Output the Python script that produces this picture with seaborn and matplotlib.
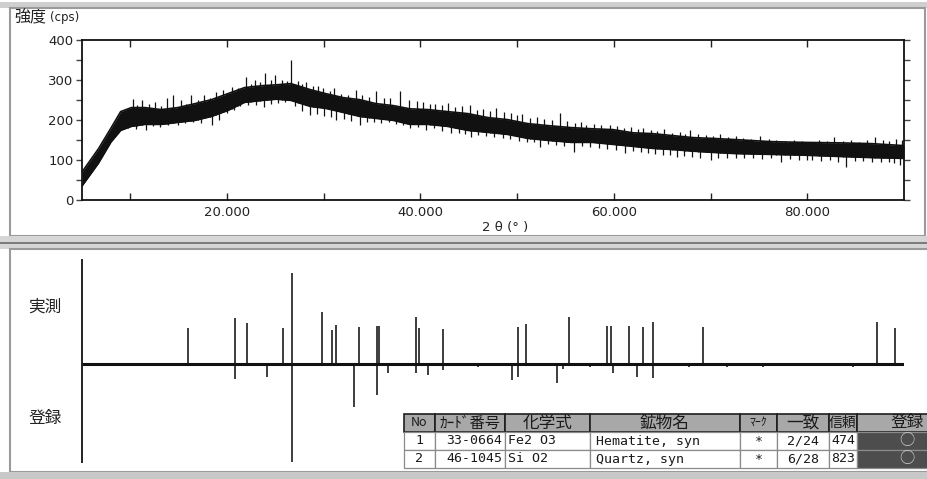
import numpy as np
import pandas as pd
import matplotlib
matplotlib.use("Agg")
import matplotlib.pyplot as plt
from matplotlib.patches import Rectangle
from matplotlib.lines import Line2D
import seaborn as sns

# ---- measured scan: dense noise band (lower / upper edge) ----
two_theta_band = [5.0, 6.7, 8.0, 9.0, 10.1, 11.5, 13.2, 14.9, 16.7, 18.4, 20.1, 21.8,
                  23.7, 25.1, 26.6, 28.6, 30.2, 32.0, 33.7, 35.4, 37.2, 38.9, 40.8,
                  42.8, 44.9, 47.0, 49.0, 51.1, 53.2, 55.6, 57.8, 59.9, 62.0, 64.0,
                  66.1, 68.2, 70.2, 72.6, 76.2, 79.7, 83.1, 86.6, 90.0]
band_low = [35, 92, 145, 174, 184, 189, 189, 194, 199, 209, 224, 244,
            249, 252, 249, 234, 229, 219, 209, 204, 199, 189, 189,
            184, 174, 169, 164, 154, 149, 144, 144, 139, 134, 129,
            126, 122, 119, 116, 114, 112, 109, 106, 104]
band_high = [70, 128, 180, 221, 231, 231, 226, 231, 241, 251, 266, 281,
             286, 288, 291, 276, 266, 256, 251, 241, 236, 228, 226,
             221, 216, 206, 201, 191, 186, 181, 178, 176, 168, 166,
             161, 156, 154, 151, 146, 144, 143, 141, 136]

# single counts sticking out of the band
spike_up_theta = [9.6, 10.3, 10.7, 11.2, 11.9, 12.6, 13.2, 13.8, 14.4, 15.2, 15.8, 16.3,
                  17.0, 17.6, 18.2, 18.9, 19.6, 20.0, 20.5, 21.1, 22.0, 22.5, 22.9, 23.4,
                  23.9, 24.5, 25.0, 25.7, 26.2, 26.6, 27.3, 27.8, 28.2, 28.9, 29.4, 29.9,
                  30.6, 31.1, 31.8, 32.5, 33.3, 34.0, 34.7, 35.4, 36.2, 36.9, 37.9, 38.8,
                  39.6, 40.3, 41.0, 41.5, 42.2, 42.8, 43.6, 44.3, 45.1, 45.8, 46.5, 47.2,
                  47.8, 48.6, 49.4, 50.0, 50.5, 51.3, 52.0, 52.8, 53.6, 54.4, 55.2, 56.0,
                  56.6, 57.1, 57.9, 58.7, 59.6, 60.3, 61.0, 61.8, 62.5, 63.0, 63.8, 64.5,
                  65.2, 66.0, 66.8, 67.4, 67.9, 68.7, 69.5, 70.3, 71.0, 71.8, 72.6, 73.3,
                  74.2, 75.1, 76.0, 76.8, 77.7, 78.6, 79.5, 80.3, 81.2, 82.0, 82.8, 83.7,
                  84.5, 85.3, 86.2, 87.0, 87.8, 88.5, 89.2, 89.8]
spike_up_value = [225, 252, 238, 250, 240, 245, 235, 255, 262, 250, 240, 262,
                  250, 262, 255, 270, 275, 265, 282, 280, 307, 290, 300, 295,
                  317, 300, 312, 300, 298, 350, 298, 290, 295, 285, 285, 280,
                  272, 280, 265, 262, 275, 262, 258, 272, 255, 255, 272, 250,
                  248, 245, 240, 240, 238, 242, 232, 235, 237, 225, 228, 222,
                  230, 220, 218, 212, 215, 205, 208, 202, 200, 217, 198, 192,
                  195, 187, 190, 188, 187, 185, 180, 182, 178, 180, 175, 172,
                  178, 168, 170, 165, 175, 165, 162, 160, 165, 158, 160, 155,
                  152, 160, 152, 150, 148, 150, 148, 146, 150, 148, 157, 148,
                  150, 145, 150, 157, 150, 148, 152, 150]
spike_down_theta = [9.8, 10.6, 11.6, 12.3, 13.1, 13.9, 14.9, 15.7, 16.5, 17.3, 18.4, 19.2,
                    20.0, 20.7, 21.3, 22.2, 23.0, 23.8, 24.5, 25.3, 26.0, 27.0, 27.7, 28.6,
                    29.3, 30.0, 30.7, 31.3, 32.1, 32.8, 33.7, 34.5, 35.2, 35.9, 36.7, 37.5,
                    38.2, 38.9, 39.7, 40.6, 41.4, 42.2, 43.2, 44.0, 44.6, 45.2, 46.0, 46.8,
                    47.6, 48.5, 49.3, 50.2, 51.0, 51.7, 52.4, 53.2, 54.0, 54.8, 55.9, 56.7,
                    57.5, 58.5, 59.3, 60.2, 61.2, 62.0, 62.8, 63.5, 64.3, 65.1, 65.8, 66.5,
                    67.3, 68.1, 68.9, 70.0, 70.8, 71.7, 72.6, 73.5, 74.4, 75.3, 76.2, 77.3,
                    78.2, 79.1, 80.0, 80.5, 81.4, 82.3, 83.2, 84.0, 84.9, 85.8, 86.7, 87.6,
                    88.5, 89.0, 89.6]
spike_down_value = [180, 178, 175, 185, 182, 188, 187, 192, 195, 192, 187, 200,
                    218, 225, 235, 238, 238, 232, 240, 242, 245, 235, 222, 212,
                    215, 210, 207, 200, 202, 198, 187, 195, 195, 192, 195, 190,
                    188, 180, 182, 175, 180, 172, 167, 168, 165, 157, 162, 160,
                    158, 155, 152, 148, 145, 145, 132, 140, 138, 135, 120, 135,
                    132, 130, 128, 125, 117, 122, 120, 117, 115, 112, 112, 107,
                    110, 108, 106, 100, 106, 104, 105, 105, 104, 103, 105, 95,
                    102, 100, 100, 100, 98, 100, 96, 82, 98, 97, 95, 96,
                    95, 92, 87]

# ---- peak lists: observed (up) and database card (down) ----
meas_theta = [16.0, 20.8, 22.1, 25.8, 26.7, 29.8, 30.9, 31.3, 33.6, 35.5, 35.7, 39.5,
              39.8, 42.3, 50.1, 50.9, 55.4, 59.3, 59.7, 61.6, 63.0, 64.0, 69.2, 87.2, 89.1]
meas_height = [37, 47, 42, 37, 93, 53, 35, 40, 38, 39, 39, 48,
               37, 36, 38, 41, 48, 39, 39, 39, 38, 43, 38, 43, 37]
ref_theta = [20.8, 24.1, 26.7, 33.1, 35.5, 36.6, 39.5, 40.8, 42.3, 45.9, 49.5, 50.1,
             54.1, 54.7, 57.5, 59.9, 62.4, 64.0, 67.8, 71.7, 75.4, 84.7]
ref_height = [15, 13, 100, 44, 32, 9, 9, 11, 6, 3, 16, 13,
              19, 5, 3, 9, 13, 14, 3, 3, 3, 3]

# ---- search / match result table ----
table_columns = ["No", "ｶｰﾄﾞ番号", "化学式", "鉱物名", "ﾏｰｸ", "一致", "信頼", "登録"]
row_no = ["1", "2"]
card_no = ["33-0664", "46-1045"]
formula = ["Fe2 O3", "Si O2"]
mineral = ["Hematite, syn", "Quartz, syn"]
mark = ["*", "*"]
match = ["2/24", "6/28"]
fom = ["474", "823"]
registered = ["○", "○"]

x_ticks = [20, 40, 60, 80]
x_minor = [10, 30, 50, 70]
y_ticks = [0, 100, 200, 300, 400]

sns.set_style("white")
plt.rcParams["font.family"] = ["DejaVu Sans", "Noto Sans CJK JP"]
JP = ["Noto Sans CJK JP", "DejaVu Sans"]

W, H = 927, 479
fig = plt.figure(figsize=(W / 100, H / 100), dpi=100)
fig.patch.set_facecolor("white")


def fx(px):
    return px / W


def fy(py):
    return 1 - py / H


def frect(x0, y0, x1, y1, **kw):
    fig.add_artist(Rectangle((fx(x0), fy(y1)), fx(x1) - fx(x0), fy(y0) - fy(y1),
                             transform=fig.transFigure, **kw))


# window frames
frect(0, 2, W, 8, facecolor="#cfcfcf", edgecolor="none", zorder=0)
frect(10, 8, 925, 236, facecolor="none", edgecolor="#9a9a9a", lw=1.5, zorder=0)
frect(0, 236, W, 249, facecolor="#d6d6d6", edgecolor="none", zorder=0)
fig.add_artist(Line2D([0, 1], [fy(243), fy(243)], transform=fig.transFigure,
                      color="#6a6a6a", lw=1.2))
frect(10, 249, 940, 472, facecolor="none", edgecolor="#9a9a9a", lw=1.5, zorder=0)
frect(0, 472, W, H, facecolor="#c8c8c8", edgecolor="none", zorder=0)

# ---------------- top panel: scan ----------------
ax1 = fig.add_axes([fx(82), fy(200), (904 - 82) / W, (200 - 40) / H])
scan = pd.DataFrame({"tt": two_theta_band, "lo": band_low, "hi": band_high})
ax1.fill_between(scan["tt"], scan["lo"], scan["hi"], color="#111111", lw=0)
sns.lineplot(data=scan, x="tt", y="hi", ax=ax1, color="#111111", lw=1.2)
sns.lineplot(data=scan, x="tt", y="lo", ax=ax1, color="#111111", lw=1.2)
base_up = np.interp(spike_up_theta, two_theta_band, band_low)
base_dn = np.interp(spike_down_theta, two_theta_band, band_high)
ax1.vlines(spike_up_theta, base_up, spike_up_value, color="#111111", lw=0.9)
ax1.vlines(spike_down_theta, spike_down_value, base_dn, color="#111111", lw=0.9)

ax1.set_xlim(5, 90)
ax1.set_ylim(0, 400)
ax1.set_xticks(x_ticks)
ax1.set_xticklabels([f"{v:.3f}" for v in x_ticks])
ax1.set_xticks(x_minor, minor=True)
ax1.set_yticks(y_ticks)
ax1.set_yticks([50, 150, 250, 350], minor=True)
ax1.tick_params(axis="x", which="both", direction="in", top=True, bottom=True,
                length=5, width=1, color="#222222", labelsize=9.5, pad=4,
                labelcolor="#222222")
ax1.tick_params(axis="y", which="both", direction="out", left=True, right=True,
                length=4, width=1, color="#444444", labelsize=9.5, pad=2,
                labelcolor="#222222")
ax1.set_xlabel("")
ax1.set_ylabel("")
for s in ax1.spines.values():
    s.set_color("#111111")
    s.set_linewidth(1.3)

fig.text(fx(14), fy(18), "強度", fontsize=11.5, family=JP, ha="left", va="center",
         color="#222222")
fig.text(fx(50), fy(17), "(cps)", fontsize=8.5, ha="left", va="center", color="#222222")
fig.text(fx(505), fy(228), "2 θ (° )", fontsize=9.5, ha="center", va="center",
         color="#222222")

# ---------------- bottom panel: stick pattern ----------------
ax2 = fig.add_axes([fx(82), fy(462), (904 - 82) / W, (462 - 260) / H])
ax2.set_xlim(5, 90)
ax2.set_ylim(-100, 106)
ax2.vlines(meas_theta, 0, meas_height, color="#2e2e2e", lw=1.3)
ax2.vlines(ref_theta, [-h for h in ref_height], 0, color="#2e2e2e", lw=1.3)
ax2.axhline(0, color="#111111", lw=2.2)
ax2.set_xticks([])
ax2.set_yticks([])
for k, s in ax2.spines.items():
    s.set_visible(k == "left")
ax2.spines["left"].set_color("#222222")
ax2.spines["left"].set_linewidth(1.4)
ax2.patch.set_alpha(0)

fig.text(fx(45), fy(307), "実測", fontsize=12, family=JP, ha="center", va="center",
         color="#222222")
fig.text(fx(45), fy(419), "登録", fontsize=12, family=JP, ha="center", va="center",
         color="#222222")

# ---------------- result table ----------------
col_px = [31, 70, 85, 150, 37, 52, 28, 100]
tx0, tx1, ty0, ty1 = 404, 404 + sum(col_px), 414, 468
axt = fig.add_axes([fx(tx0), fy(ty1), (tx1 - tx0) / W, (ty1 - ty0) / H])
axt.axis("off")
rows = [list(r) for r in zip(row_no, card_no, formula, mineral, mark, match, fom, registered)]
tbl = axt.table(cellText=rows, colLabels=table_columns, bbox=[0, 0, 1, 1],
                colWidths=[c / sum(col_px) for c in col_px])
tbl.auto_set_font_size(False)
align = ["center", "right", "left", "left", "center", "center", "center", "center"]
head_size = [9, 11, 12, 12, 8.5, 12, 10, 12]
for (r, c), cell in tbl.get_celld().items():
    txt = cell.get_text()
    cell.PAD = 0.04
    if r == 0:
        cell.set_facecolor("#a8a8a8")
        cell.set_edgecolor("#1e1e1e")
        cell.set_linewidth(1.2)
        txt.set_fontfamily(JP)
        txt.set_fontsize(head_size[c])
        txt.set_color("#1a1a1a")
        txt.set_horizontalalignment("center")
    else:
        cell.set_edgecolor("#8a8a8a")
        cell.set_linewidth(0.9)
        txt.set_fontfamily(["DejaVu Sans Mono", "Noto Sans CJK JP"])
        txt.set_fontsize(9.5)
        txt.set_color("#1a1a1a")
        txt.set_horizontalalignment(align[c])
        if c == 7:
            cell.set_facecolor("#4d4d4d")
            txt.set_color("#c8c8c8")
            txt.set_fontfamily(JP)
            txt.set_fontsize(11)
        else:
            cell.set_facecolor("white")

fig.savefig("out.png", dpi=100)
